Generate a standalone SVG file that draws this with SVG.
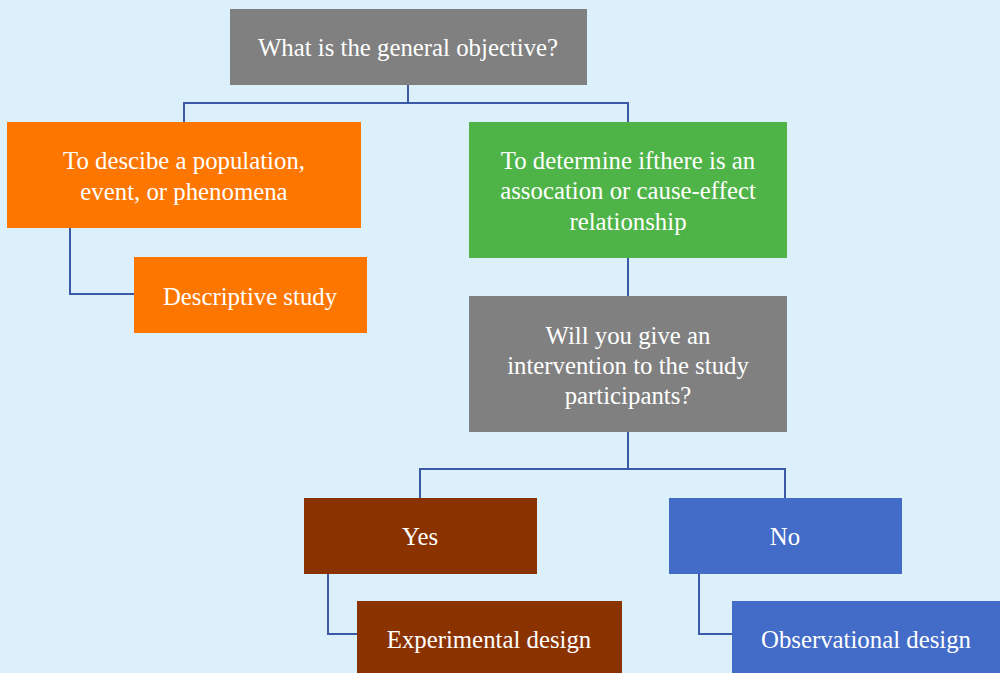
<svg xmlns="http://www.w3.org/2000/svg" width="1000" height="673" viewBox="0 0 1000 673">
  <style>
    .lbl { font-family: "Liberation Serif", "DejaVu Serif", serif; font-size: 24.8px; fill: #ffffff; text-anchor: middle; }
    .wire { fill: none; stroke: #3a5aa8; stroke-width: 2; }
  </style>
  <rect x="0" y="0" width="1000" height="673" fill="#dbf0fb"/>

  <g id="connectors">
    <path class="wire" d="M408,85 V103 M184,122 V103 H628 V122"/>
    <path class="wire" d="M70,228 V294 H134"/>
    <path class="wire" d="M628,258 V296"/>
    <path class="wire" d="M628,432 V469 M420,498 V469 H785 V498"/>
    <path class="wire" d="M328,574 V634 H357"/>
    <path class="wire" d="M699,574 V634 H732"/>
  </g>

  <g id="objective">
    <rect x="230" y="9" width="357" height="76" fill="#808080"/>
    <text class="lbl" x="408" y="56">What is the general objective?</text>
  </g>

  <g id="describe">
    <rect x="7" y="122" width="354" height="106" fill="#fd7600"/>
    <text class="lbl" x="184" y="169">To descibe a population,</text>
    <text class="lbl" x="184" y="200">event, or phenomena</text>
  </g>

  <g id="descriptive-study">
    <rect x="134" y="257" width="233" height="76" fill="#fd7600"/>
    <text class="lbl" x="250" y="305">Descriptive study</text>
  </g>

  <g id="association">
    <rect x="469" y="122" width="318" height="136" fill="#4fb448"/>
    <text class="lbl" x="628" y="169">To determine ifthere is an</text>
    <text class="lbl" x="628" y="199">assocation or cause-effect</text>
    <text class="lbl" x="628" y="230">relationship</text>
  </g>

  <g id="intervention">
    <rect x="469" y="296" width="318" height="136" fill="#808080"/>
    <text class="lbl" x="628" y="344">Will you give an</text>
    <text class="lbl" x="628" y="374">intervention to the study</text>
    <text class="lbl" x="628" y="404">participants?</text>
  </g>

  <g id="yes">
    <rect x="304" y="498" width="233" height="76" fill="#8b3300"/>
    <text class="lbl" x="420" y="545">Yes</text>
  </g>

  <g id="no">
    <rect x="669" y="498" width="233" height="76" fill="#436bc8"/>
    <text class="lbl" x="785" y="545">No</text>
  </g>

  <g id="experimental">
    <rect x="357" y="601" width="265" height="72" fill="#8b3300"/>
    <text class="lbl" x="489" y="648">Experimental design</text>
  </g>

  <g id="observational">
    <rect x="732" y="601" width="268" height="72" fill="#436bc8"/>
    <text class="lbl" x="866" y="648">Observational design</text>
  </g>
</svg>
